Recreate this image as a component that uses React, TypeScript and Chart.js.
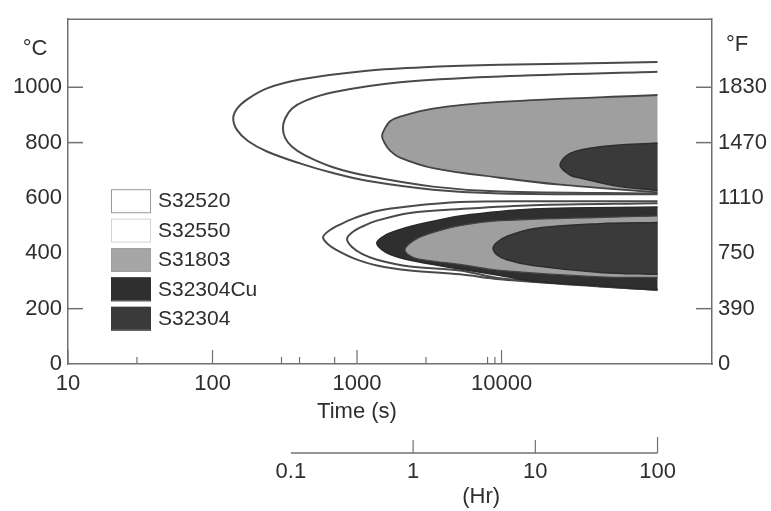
import React, { useEffect, useRef } from 'react';
import { Chart, registerables } from 'chart.js';

Chart.register(...registerables);

// ---------- data ----------
const timeTicks = [10, 100, 1000, 10000];
const timeMinorTicks = [30, 300, 400, 700, 3000, 8000, 9000];
const hourTicks = [0.1, 1, 10, 100];
const celsiusTicks = [0, 200, 400, 600, 800, 1000];
const fahrenheitLabels = ['0', '390', '750', '1110', '1470', '1830'];
const celsiusTickMarks = [200, 800, 1000];
const fahrenheitTickMarks = [200, 800, 1000];

const materials = ['S32520', 'S32550', 'S31803', 'S32304Cu', 'S32304'];

// C-curves: [time (s), temperature (°C)], upper branch from right to nose, then lower branch back to right
const s32520Upper = [[120000, 1091], [9763, 1081], [3357, 1074], [1173, 1060], [403, 1028], [238, 996], [176, 958], [148, 923], [139, 887], [148, 845], [176, 806], [238, 768], [403, 725], [682, 690], [1173, 662], [3357, 630], [9763, 616], [120000, 613]];
const s32550Upper = [[120000, 1056], [9763, 1039], [1984, 1018], [682, 982], [437, 951], [355, 923], [318, 887], [307, 852], [318, 817], [355, 785], [437, 754], [682, 711], [1173, 680], [3357, 641], [9763, 623], [120000, 616]];
const s31803Upper = [[120000, 972], [9763, 947], [3357, 923], [1984, 894], [1692, 877], [1562, 852], [1489, 824], [1562, 796], [1692, 771], [1984, 746], [3357, 708], [9763, 673], [25400, 648], [120000, 620]];
const s32304Upper = [[120000, 799], [48050, 785], [29790, 761], [25400, 718], [29790, 683], [34920, 672], [66070, 641], [120000, 627]];

const s32520Lower = [[120000, 588], [16520, 588], [5161, 585], [2327, 570], [1375, 553], [968, 528], [763, 504], [630, 479], [582, 458], [630, 433], [763, 405], [968, 380], [1375, 356], [2327, 338], [5161, 324], [9763, 306], [48050, 280], [120000, 268]];
const s32550Lower = [[120000, 581], [16520, 574], [5161, 560], [2327, 546], [1375, 518], [1083, 496], [923, 475], [853, 451], [923, 423], [1083, 398], [1375, 377], [2327, 352], [5161, 338], [9763, 310], [48050, 281], [120000, 268]];
const s32304CuLower = [[120000, 567], [16520, 560], [5161, 535], [3051, 511], [1984, 486], [1562, 465], [1369, 437], [1562, 405], [1984, 384], [3051, 363], [5161, 343], [9763, 320], [16520, 299], [48050, 282], [120000, 268]];
const s31803Lower = [[120000, 535], [9763, 518], [5161, 500], [3051, 468], [2441, 444], [2148, 412], [2441, 386], [3051, 375], [5161, 360], [9763, 338], [48050, 315], [120000, 313]];
const s32304Lower = [[120000, 511], [48050, 507], [16520, 489], [10860, 461], [9310, 440], [8735, 419], [9310, 394], [10860, 377], [16520, 356], [48050, 331], [120000, 324]];

// ---------- styles ----------
const AXIS = '#707070';
const TEXT = '#2e2e2e';
const FONT = '"Liberation Sans", Arial, Helvetica, sans-serif';
const GRAY = '#9f9f9f';
const DARK_CU = '#2f2f2f';
const DARK = '#3a3a3a';
const legendFill = ['#ffffff', '#ffffff', '#a6a6a6', DARK_CU, DARK];
const legendStroke = ['#9a9a9a', '#d4d4d4', '#a0a0a0', DARK_CU, DARK];

const mk = (label: string, pts: number[][], border: string, fillColor: string | null, width: number, order: number) => ({
  label,
  data: pts.map(([x, y]) => ({ x, y })),
  borderColor: border,
  borderWidth: width,
  backgroundColor: fillColor || 'rgba(0,0,0,0)',
  fill: fillColor ? 'shape' : false,
  tension: 0.35,
  pointRadius: 0,
  order,
});

const decorPlugin = {
  id: 'decor',
  afterDraw(chart: any) {
    const { ctx, chartArea: a, scales } = chart;
    const x = scales.x, y = scales.y, xh = scales.xh;
    const line = (x1: number, y1: number, x2: number, y2: number) => {
      ctx.beginPath(); ctx.moveTo(x1, y1); ctx.lineTo(x2, y2); ctx.stroke();
    };
    ctx.save();
    ctx.strokeStyle = AXIS;
    ctx.lineWidth = 1.5;
    line(a.left, a.top, a.right, a.top);
    celsiusTickMarks.forEach((v) => { const p = y.getPixelForValue(v); line(a.left, p, a.left + 15, p); });
    fahrenheitTickMarks.forEach((v) => { const p = y.getPixelForValue(v); line(a.right - 16, p, a.right, p); });
    ctx.lineWidth = 1.2;
    timeTicks.forEach((v) => { const p = x.getPixelForValue(v); line(p, a.bottom, p, a.bottom - 14); });
    timeMinorTicks.forEach((v) => { const p = x.getPixelForValue(v); line(p, a.bottom, p, a.bottom - 7); });

    // hour axis
    const hy = a.bottom + 89;
    const h0 = xh.getPixelForValue(hourTicks[0]);
    const h1 = xh.getPixelForValue(hourTicks[hourTicks.length - 1]);
    ctx.lineWidth = 1.5;
    line(h0, hy, h1, hy);
    ctx.lineWidth = 1.2;
    hourTicks.forEach((v, i) => {
      if (i === 0) return;
      const p = xh.getPixelForValue(v);
      line(p, hy, p, hy - (i === hourTicks.length - 1 ? 16 : 13));
    });

    ctx.fillStyle = TEXT;
    ctx.font = `22px ${FONT}`;
    ctx.textAlign = 'center';
    ctx.textBaseline = 'middle';
    hourTicks.forEach((v) => { ctx.fillText(String(v), xh.getPixelForValue(v), hy + 19); });
    ctx.fillText('(Hr)', xh.getPixelForValue(3.6), hy + 44);
    ctx.fillText('Time (s)', x.getPixelForValue(1000), a.bottom + 48);
    ctx.fillText('°C', a.left - 33, a.top + 30);
    ctx.fillText('°F', a.right + 25, a.top + 26);

    // legend
    const lx = a.left + 43, ly = a.top + 170, sw = 39, sh = 23, step = 29.4;
    ctx.font = `21px ${FONT}`;
    ctx.textAlign = 'left';
    materials.forEach((m, i) => {
      const top = ly + i * step;
      ctx.fillStyle = legendFill[i];
      ctx.fillRect(lx, top, sw, sh);
      ctx.strokeStyle = legendStroke[i];
      ctx.lineWidth = 1;
      ctx.strokeRect(lx + 0.5, top + 0.5, sw, sh);
      ctx.fillStyle = TEXT;
      ctx.fillText(m, lx + sw + 8, top + sh / 2 + 1);
    });
    ctx.restore();
  },
};

export default function App() {
  const ref = useRef<HTMLCanvasElement | null>(null);
  useEffect(() => {
    document.body.style.margin = '0';
    const canvas = ref.current;
    if (!canvas) return;
    const chart = new Chart(canvas, {
      type: 'line',
      data: {
        datasets: [
          mk('S32520', s32520Upper, '#4a4a4a', null, 2, 9),
          mk('S32520', s32520Lower, '#4a4a4a', null, 2, 8),
          mk('S32550', s32550Upper, '#4a4a4a', null, 2, 7),
          mk('S32550', s32550Lower, '#4a4a4a', null, 2, 6),
          mk('S32304Cu', s32304CuLower, '#2a2a2a', DARK_CU, 1.5, 5),
          mk('S31803', s31803Upper, '#444444', GRAY, 1.8, 4),
          mk('S31803', s31803Lower, '#444444', GRAY, 1.2, 3),
          mk('S32304', s32304Upper, '#2e2e2e', DARK, 1.5, 2),
          mk('S32304', s32304Lower, '#2e2e2e', DARK, 1.5, 1),
        ] as any,
      },
      options: {
        animation: false,
        responsive: false,
        devicePixelRatio: 1,
        layout: { padding: { top: 10, left: 0, right: 0, bottom: 0 } },
        plugins: { legend: { display: false }, tooltip: { enabled: false } },
        font: { family: FONT },
        scales: {
          x: {
            type: 'logarithmic',
            min: 10,
            max: 286000,
            afterBuildTicks: (s: any) => { s.ticks = timeTicks.map((v) => ({ value: v })); },
            afterFit: (s: any) => { s.height = 147; },
            ticks: { callback: (v: any) => String(v), autoSkip: false, maxRotation: 0, padding: 7, color: TEXT, font: { size: 22, family: FONT } },
            grid: { display: false, drawTicks: false },
            border: { color: AXIS, width: 1.5 },
          },
          xh: {
            type: 'logarithmic',
            display: false,
            position: 'bottom',
            min: 0.0015,
            max: 279,
          },
          y: {
            type: 'linear',
            min: 0,
            max: 1246,
            afterBuildTicks: (s: any) => { s.ticks = celsiusTicks.map((v) => ({ value: v })); },
            afterFit: (s: any) => { s.width = 68; },
            ticks: { padding: 6, color: TEXT, font: { size: 22, family: FONT }, callback: (v: any) => String(v) },
            grid: { display: false, drawTicks: false },
            border: { color: AXIS, width: 1.5 },
          },
          y2: {
            type: 'linear',
            position: 'right',
            min: 0,
            max: 1246,
            afterBuildTicks: (s: any) => { s.ticks = celsiusTicks.map((v) => ({ value: v })); },
            afterFit: (s: any) => { s.width = 59; },
            ticks: {
              padding: 6, color: TEXT, font: { size: 22, family: FONT },
              callback: (v: any) => fahrenheitLabels[celsiusTicks.indexOf(Number(v))] ?? '',
            },
            grid: { display: false, drawTicks: false },
            border: { color: AXIS, width: 1.5 },
          },
        },
      } as any,
      plugins: [decorPlugin],
    });
    return () => chart.destroy();
  }, []);
  return (
    <div style={{ width: 771, height: 511, background: '#fff' }}>
      <canvas ref={ref} width={771} height={511} style={{ display: 'block', width: 771, height: 511 }} />
    </div>
  );
}
